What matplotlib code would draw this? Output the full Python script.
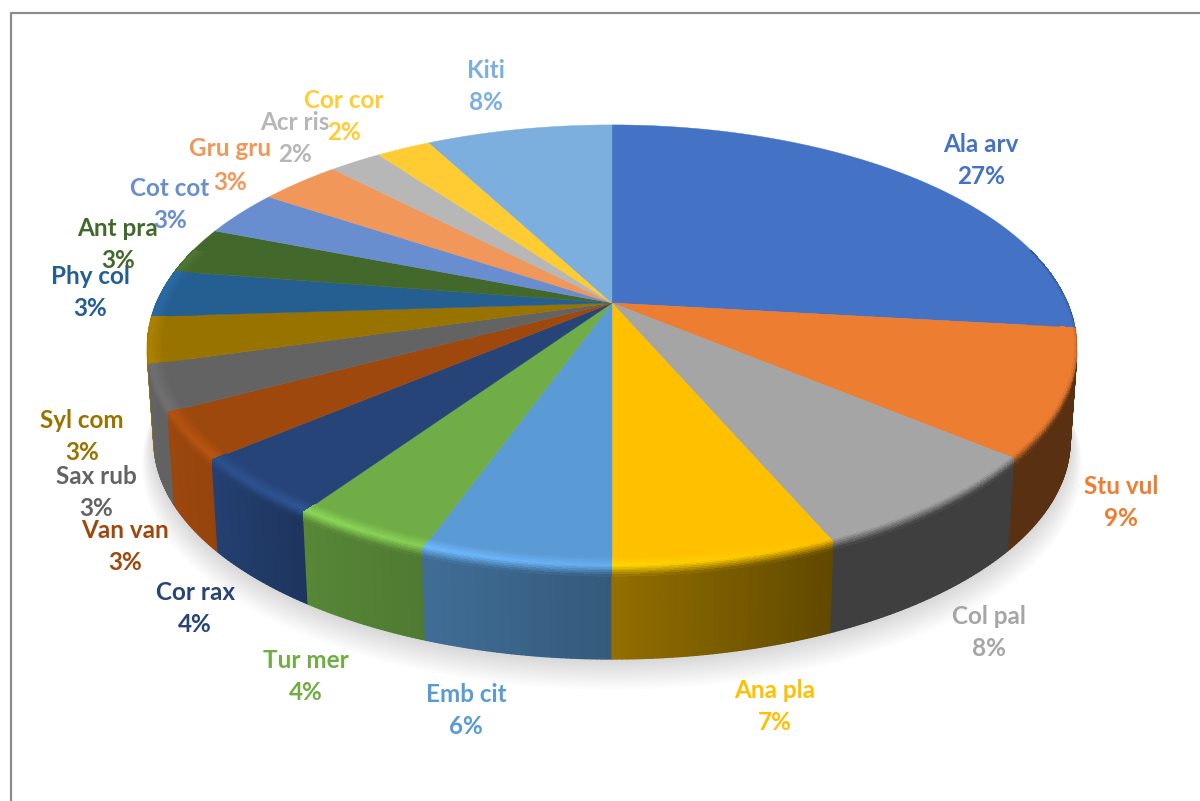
import numpy as np
import matplotlib
matplotlib.use('Agg')
import matplotlib.pyplot as plt
from matplotlib.collections import PolyCollection
from matplotlib.colors import to_rgb

plt.rcParams['font.family'] = ['Lato', 'DejaVu Sans']

# Data
species = ['Ala arv', 'Stu vul', 'Col pal', 'Ana pla', 'Emb cit', 'Tur mer', 'Cor rax', 'Van van',
           'Sax rub', 'Syl com', 'Phy col', 'Ant pra', 'Cot cot', 'Gru gru', 'Acr ris', 'Cor cor', 'Kiti']
shares = [26.8, 9.2, 7.5, 6.5, 5.5, 4.1, 4.3, 3.4, 3.3, 3.4, 3.45, 3.45, 3.4, 3.4, 2.2, 2.3, 7.8]
pct_labels = ['27%', '9%', '8%', '7%', '6%', '4%', '4%', '3%', '3%', '3%', '3%', '3%', '3%', '3%', '2%', '2%', '8%']

colors = ['#4472C4', '#ED7D31', '#A5A5A5', '#FFC000', '#5B9BD5', '#70AD47', '#264478', '#9E480E',
          '#636363', '#997300', '#255E91', '#43682B', '#698ED0', '#F1975A', '#B7B7B7', '#FFCD33', '#7CAFDD']

# label centre: x, y of name, y of percent
label_pos = [(981, 144, 177), (1121, 486, 518), (989, 617, 649), (775, 691, 723), (466, 694, 726),
             (306, 660, 692), (195, 592, 624), (125, 530, 562), (96, 477, 509), (82, 420, 452),
             (90, 277, 309), (118, 229, 261), (170, 188, 220), (230, 149, 182), (295, 122, 154),
             (344, 101, 133), (486, 70, 102)]

# Perspective of the pie
CX, CY = 612, 303
A, B, P = 456, 213, 0.196
DEPTH = 95


def project(theta, r=1.0, z=0.0):
    # theta clockwise from the top, z from 0 (top face) to 1 (bottom face)
    u = r * np.sin(theta)
    v = r * np.cos(theta)
    w = 1 + P * v
    s = 1 - 0.015 * z
    return CX + s * A * u / w, CY + DEPTH * z - s * B * v / w


def wall_shade(x):
    return np.interp(x, [150, 212, 303, 430, 612, 830, 1080], [1.0, 0.95, 0.78, 0.70, 0.58, 0.38, 0.38])


def rim_light(x):
    return np.interp(x, [150, 303, 612, 830], [1.12, 1.25, 1.12, 1.0])


fig = plt.figure(figsize=(12, 8.01), dpi=100)
ax = fig.add_axes([0, 0, 1, 1])
ax.set_xlim(0, 1200)
ax.set_ylim(801, 0)
ax.axis('off')

# frame
ax.plot([11, 11, 1200], [801, 12.5, 12.5], color='#8c8c8c', lw=1.6)

# slice limits
edges = np.cumsum([0] + shares) / np.sum(shares) * 2 * np.pi

# soft shadow under the pie
all_t = np.linspace(0, 2 * np.pi, 300)
for k in range(14):
    sx, sy = project(all_t, 1 + 0.0022 * k, 1 + 0.018 * k)
    ax.fill(sx, sy, color='black', alpha=0.010, lw=0, zorder=1)

# rim profile: 0 is on the top face, 1 is on the wall
rim_s = np.linspace(0, 1, 13)
rim_r = np.interp(rim_s, [0, 0.6, 1], [0.968, 1.0, 1.0])
rim_z = np.interp(rim_s, [0, 0.6, 1], [0.0, 0.0, 0.09])

# side wall and rim, thin strips
wall_strips = []
rim_strips = []
for i in range(len(shares)):
    base = np.array(to_rgb(colors[i]))
    t0 = max(edges[i], np.radians(75))
    t1 = min(edges[i + 1], np.radians(285))
    if t1 <= t0:
        continue
    n = max(2, int(np.degrees(t1 - t0) * 2))
    ts = np.linspace(t0, t1, n)
    for a, b in zip(ts[:-1], ts[1:]):
        xa, ya = project(a, 1, 0.08)
        xb, yb = project(b, 1, 0.08)
        xc, yc = project(b, 1, 1)
        xd, yd = project(a, 1, 1)
        xm = (xa + xb) / 2
        wall = np.clip(base * wall_shade(xm), 0, 1)
        wall_strips.append((ya + yb, [(xa, ya), (xb, yb), (xc, yc), (xd, yd)], wall))

        # rim goes from the top colour over a highlight to the wall colour
        light = np.clip(base * rim_light(xm), 0, 1)
        for j in range(len(rim_s) - 1):
            sm = (rim_s[j] + rim_s[j + 1]) / 2
            col = [np.interp(sm, [0, 0.5, 1], [base[c], light[c], wall[c]]) for c in range(3)]
            p1 = project(a, rim_r[j], rim_z[j])
            p2 = project(b, rim_r[j], rim_z[j])
            p3 = project(b, rim_r[j + 1], rim_z[j + 1])
            p4 = project(a, rim_r[j + 1], rim_z[j + 1])
            rim_strips.append((ya + yb + j * 0.001, [p1, p2, p3, p4], col))

# lower strips are nearer, they go on top
wall_strips.sort(key=lambda s: s[0])
rim_strips.sort(key=lambda s: s[0])
ax.add_collection(PolyCollection([s[1] for s in wall_strips], facecolors=[s[2] for s in wall_strips],
                                 edgecolors='face', linewidths=1.0, zorder=2))

# top face
for i in range(len(shares)):
    ts = np.linspace(edges[i], edges[i + 1], 60)
    ex, ey = project(ts)
    ax.fill(np.r_[CX, ex], np.r_[CY, ey], color=colors[i], lw=0.3, zorder=3)

ax.add_collection(PolyCollection([s[1] for s in rim_strips], facecolors=[s[2] for s in rim_strips],
                                 edgecolors='none', antialiaseds=False, zorder=4))

# labels
for name, pct, col, (lx, ly1, ly2) in zip(species, pct_labels, colors, label_pos):
    ax.text(lx, ly1, name, color=col, fontsize=17.5, fontweight='bold', ha='center', va='center', zorder=5)
    ax.text(lx, ly2, pct, color=col, fontsize=17.5, fontweight='bold', ha='center', va='center', zorder=5)

plt.savefig('out.png', dpi=100)
